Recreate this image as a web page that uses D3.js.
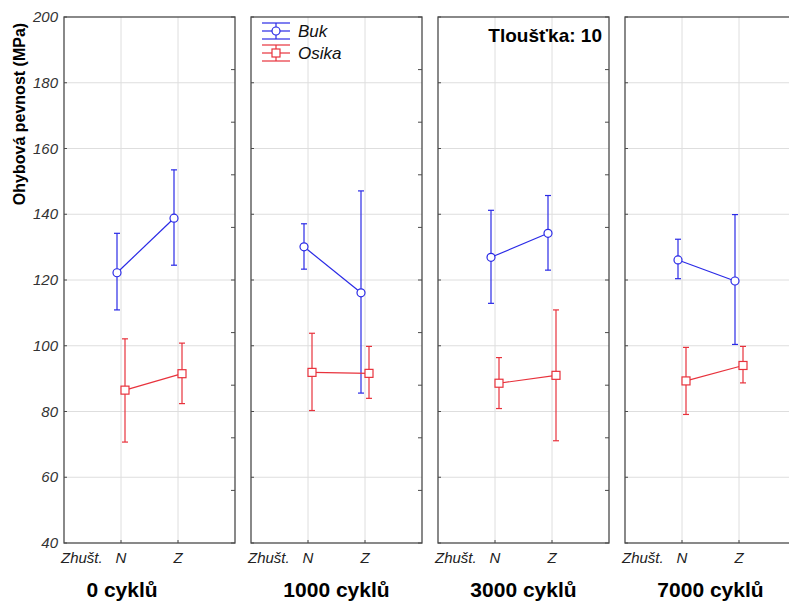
<!DOCTYPE html>
<meta charset="utf-8">
<style>
body { margin: 0; background: #fff; }
text { font-family: Arial, "Liberation Sans", sans-serif; }
.grid line { stroke: #dedede; stroke-width: 1px; }
.frame { fill: none; stroke: #4a4a4a; stroke-width: 1.3px; }
.tick { stroke: #4a4a4a; stroke-width: 1px; }
.ylab { font-size: 15px; font-style: italic; fill: #333; }
.xlab { font-size: 15px; font-style: italic; fill: #222; }
.ptitle { font-size: 21px; font-weight: bold; fill: #000; }
</style>
<svg width="789" height="602"></svg>
<script src="https://d3js.org/d3.v7.min.js"></script>
<script>

// data
var cycles = ["0 cyklů", "1000 cyklů", "3000 cyklů", "7000 cyklů"];
var density = ["N", "Z"];
var yTicks = [40, 60, 80, 100, 120, 140, 160, 180, 200];

var bukMean  = [[122.2, 138.8], [130.1, 116.1], [126.9, 134.2], [126.1, 119.7]];
var bukLow   = [[110.9, 124.5], [123.3, 85.6],  [112.9, 123.0], [120.4, 100.4]];
var bukHigh  = [[134.2, 153.5], [137.1, 147.1], [141.2, 145.7], [132.4, 139.9]];

var osikaMean = [[86.5, 91.5],  [91.9, 91.6],  [88.6, 91.0],  [89.3, 94.0]];
var osikaLow  = [[70.7, 82.4],  [80.3, 84.0],  [80.9, 71.1],  [79.1, 88.7]];
var osikaHigh = [[102.1, 100.8], [103.8, 99.8], [96.4, 110.9], [99.5, 99.8]];

var series = [
  {name: "Buk", color: "#2a2ae6", shape: "circle", dx: -4, mean: bukMean, low: bukLow, high: bukHigh},
  {name: "Osika", color: "#e8323c", shape: "square", dx: 4, mean: osikaMean, low: osikaLow, high: osikaHigh}
];

var svg = d3.select("svg");

var panelLeft = 64, panelStep = 187, panelW = 171;
var plotTop = 17, plotBottom = 543;

var y = d3.scaleLinear().domain([40, 200]).range([plotBottom, plotTop]);
var x = d3.scalePoint().domain(density).range([0, panelW]).padding(1);
var panelX = d3.scaleBand().domain(cycles).range([panelLeft, panelLeft + panelStep * 4]).paddingInner(0);

// y axis label
svg.append("text")
    .attr("transform", "translate(25,114) rotate(-90)")
    .attr("text-anchor", "middle")
    .style("font-size", "16px")
    .style("font-weight", "bold")
    .text("Ohybová pevnost (MPa)");

// y tick labels (only first panel)
svg.append("g").selectAll("text")
    .data(yTicks)
    .enter().append("text")
      .attr("class", "ylab")
      .attr("x", 58)
      .attr("y", function(d) { return y(d) + 5; })
      .attr("text-anchor", "end")
      .text(function(d) { return d; });

cycles.forEach(function(c, i) {
  var g = svg.append("g")
      .attr("transform", "translate(" + panelX(c) + ",0)");

  var grid = g.append("g").attr("class", "grid");
  grid.selectAll("line.h")
      .data(yTicks.slice(1, -1))
      .enter().append("line")
        .attr("x1", 0).attr("x2", panelW)
        .attr("y1", function(d) { return y(d); })
        .attr("y2", function(d) { return y(d); });
  grid.selectAll("line.v")
      .data(density)
      .enter().append("line")
        .attr("x1", function(d) { return x(d); })
        .attr("x2", function(d) { return x(d); })
        .attr("y1", plotTop).attr("y2", plotBottom);

  g.append("rect")
      .attr("class", "frame")
      .attr("x", 0).attr("y", plotTop)
      .attr("width", panelW).attr("height", plotBottom - plotTop);

  // little inward ticks: left at gridlines, right every 16, bottom at categories
  g.selectAll("line.lt")
      .data(yTicks)
      .enter().append("line")
        .attr("class", "tick")
        .attr("x1", 0).attr("x2", 3)
        .attr("y1", function(d) { return y(d); })
        .attr("y2", function(d) { return y(d); });
  g.selectAll("line.rt")
      .data(d3.range(40, 201, 16))
      .enter().append("line")
        .attr("class", "tick")
        .attr("x1", panelW - 4).attr("x2", panelW)
        .attr("y1", function(d) { return y(d); })
        .attr("y2", function(d) { return y(d); });
  g.selectAll("line.bt")
      .data(density)
      .enter().append("line")
        .attr("class", "tick")
        .attr("x1", function(d) { return x(d); })
        .attr("x2", function(d) { return x(d); })
        .attr("y1", plotBottom - 3).attr("y2", plotBottom);

  // x labels
  g.append("text")
      .attr("class", "xlab")
      .attr("x", -3).attr("y", 563)
      .text("Zhušt.");
  g.selectAll("text.cat")
      .data(density)
      .enter().append("text")
        .attr("class", "xlab")
        .attr("x", function(d) { return x(d); })
        .attr("y", 563)
        .attr("text-anchor", "middle")
        .text(function(d) { return d; });

  // panel title
  g.append("text")
      .attr("class", "ptitle")
      .attr("x", i === 0 ? 58 : panelW / 2)
      .attr("y", 597)
      .attr("text-anchor", "middle")
      .text(c);

  series.forEach(function(s) {
    var pts = density.map(function(d, j) {
      return {x: x(d) + s.dx, m: s.mean[i][j], lo: s.low[i][j], hi: s.high[i][j]};
    });
    var sg = g.append("g").attr("stroke", s.color).attr("fill", "none").attr("stroke-width", 1.2);

    sg.append("path")
        .attr("d", d3.line().x(function(p) { return p.x; }).y(function(p) { return y(p.m); })(pts));

    pts.forEach(function(p) {
      sg.append("line").attr("x1", p.x).attr("x2", p.x).attr("y1", y(p.lo)).attr("y2", y(p.hi));
      sg.append("line").attr("x1", p.x - 3).attr("x2", p.x + 3).attr("y1", y(p.lo)).attr("y2", y(p.lo));
      sg.append("line").attr("x1", p.x - 3).attr("x2", p.x + 3).attr("y1", y(p.hi)).attr("y2", y(p.hi));
      if (s.shape === "circle") {
        sg.append("circle").attr("cx", p.x).attr("cy", y(p.m)).attr("r", 4).attr("fill", "#fff");
      } else {
        sg.append("rect").attr("x", p.x - 4).attr("y", y(p.m) - 4).attr("width", 8).attr("height", 8).attr("fill", "#fff");
      }
    });
  });
});

// legend in the second panel
var leg = svg.append("g").attr("transform", "translate(" + panelX(cycles[1]) + ",0)");
series.forEach(function(s, k) {
  var cy = 31 + k * 22;
  var lg = leg.append("g").attr("stroke", s.color).attr("fill", "none").attr("stroke-width", 1.2);
  [-8, 0, 8].forEach(function(o) {
    lg.append("line").attr("x1", 11).attr("x2", 39).attr("y1", cy + o).attr("y2", cy + o);
  });
  lg.append("line").attr("x1", 25).attr("x2", 25).attr("y1", cy - 8).attr("y2", cy + 8);
  if (s.shape === "circle") {
    lg.append("circle").attr("cx", 25).attr("cy", cy).attr("r", 4).attr("fill", "#fff");
  } else {
    lg.append("rect").attr("x", 21).attr("y", cy - 4).attr("width", 8).attr("height", 8).attr("fill", "#fff");
  }
  leg.append("text")
      .attr("x", 47).attr("y", cy + 6)
      .style("font-size", "17px")
      .style("font-style", "italic")
      .attr("fill", "#111")
      .text(s.name);
});

svg.append("text")
    .attr("x", 602).attr("y", 42)
    .attr("text-anchor", "end")
    .style("font-size", "19px")
    .style("font-weight", "bold")
    .text("Tloušťka: 10");

</script>
